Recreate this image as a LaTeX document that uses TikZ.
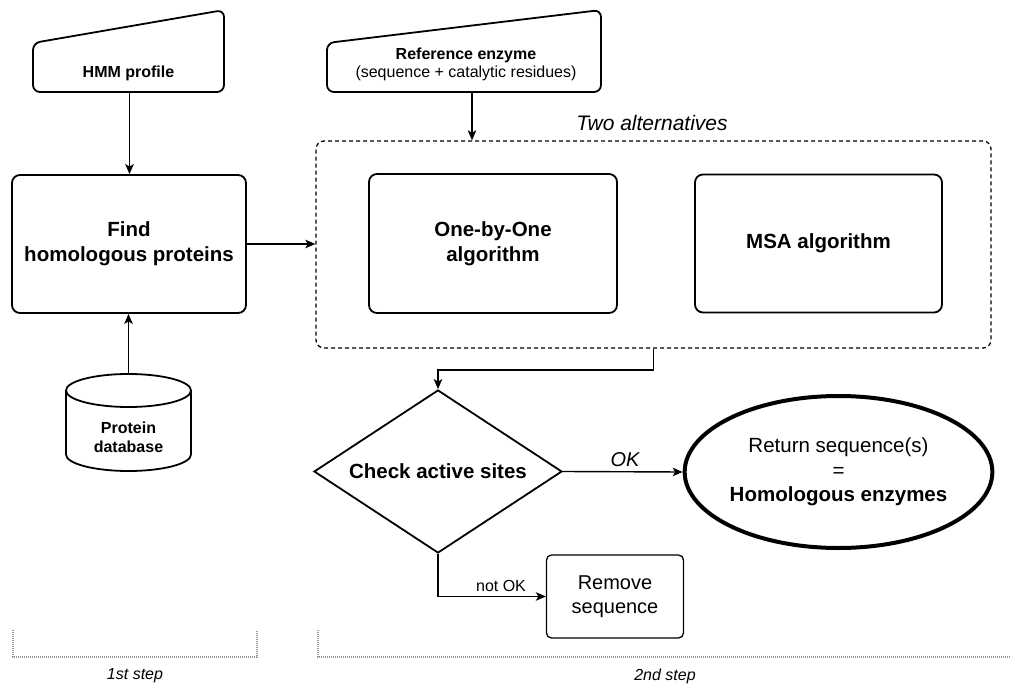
\documentclass[tikz,border=0pt]{standalone}
\usepackage{fontspec}
\setmainfont{Liberation Sans}
\usetikzlibrary{shapes.geometric,arrows.meta,calc}

\begin{document}
\begin{tikzpicture}[x=1pt,y=1pt,
  every node/.style={inner sep=0pt},
  bigbold/.style={font=\fontsize{20.5}{25}\selectfont\bfseries, align=center},
  smallbold/.style={font=\fontsize{16}{20}\selectfont\bfseries, align=center},
  procbox/.style={draw, line width=1.8pt, rounded corners=8pt, rectangle, bigbold},
  inshape/.style={draw, line width=1.8pt, rounded corners=7pt, line join=round},
  arr/.style={-{Stealth[length=10pt,width=8.5pt,inset=2.5pt]}, line width=1.4pt},
  altbox/.style={draw, line width=1.3pt, dash pattern=on 4pt off 3pt, rounded corners=8pt, rectangle},
  stepline/.style={draw=gray!80, line width=1.2pt, dash pattern=on 1pt off 1pt},
  steplabel/.style={font=\fontsize{16}{20}\selectfont\itshape}
]
\useasboundingbox (0,0) rectangle (1011,-684);

% --- inputs (manual input shapes) ---
\draw[inshape] (129,-92) -- (33,-92) -- (33,-43) -- (224,-10) -- (224,-92) -- cycle;
\node[smallbold] (hmm) at (128.5,-73) {HMM profile};
\coordinate (hmmB) at (129.5,-92);

\draw[inshape] (464,-92) -- (327,-92) -- (327,-43) -- (601,-10) -- (601,-92) -- cycle;
\node[align=center] (ref) at (466,-64)
  {{\fontsize{16}{20}\selectfont\bfseries Reference enzyme}\\[2pt]
   {\fontsize{16}{20}\selectfont (sequence + catalytic residues)}};
\coordinate (refB) at (472,-92);

% --- first step ---
\node[procbox, minimum width=234pt, minimum height=138pt] (find) at (129,-244) {Find\\homologous proteins};

% protein database cylinder
\draw[line width=1.8pt] (128.5,-390.5) ellipse [x radius=62.5, y radius=16.5];
\draw[line width=1.8pt] (66,-390.5) -- (66,-454.5)
  arc[start angle=180, end angle=360, x radius=62.5, y radius=16.5] -- (191,-390.5);
\node[smallbold, font=\fontsize{16}{19}\selectfont\bfseries] (db) at (128.5,-437.5) {Protein\\database};
\coordinate (dbT) at (128.5,-374);

% --- second step: alternatives ---
\node[altbox, minimum width=675pt, minimum height=207pt] (alts) at (653.5,-244.5) {};
\node[font=\fontsize{21}{25}\selectfont\itshape] (altlabel) at (652,-123) {Two alternatives};
\node[procbox, minimum width=248pt, minimum height=139pt] (obo) at (493,-243.5) {One-by-One\\algorithm};
\node[procbox, minimum width=247pt, minimum height=138pt] (msa) at (818.5,-243.5) {MSA algorithm};

% decision and outcomes
\node[draw, diamond, line width=1.8pt, aspect=1.52, minimum width=248pt, minimum height=163pt,
      font=\fontsize{20.5}{25}\selectfont\bfseries] (check) at (438,-471.5) {Check active sites};
\node[draw, ellipse, line width=4pt, minimum width=307pt, minimum height=152pt, align=center,
      font=\fontsize{20.5}{24.5}\selectfont] (ret) at (838.5,-472)
  {Return sequence(s)\\=\\\textbf{Homologous enzymes}};
\node[draw, rectangle, line width=1.3pt, rounded corners=5pt, minimum width=137pt, minimum height=83pt,
      align=center, font=\fontsize{20}{24}\selectfont] (rem) at (615,-596.5) {Remove\\sequence};

% --- connectors ---
\draw[arr] (hmmB) -- (hmmB |- find.north);
\draw[arr] (dbT) -- (dbT |- find.south);
\draw[arr] (find.east) -- (find.east -| alts.west);
\draw[arr] (refB) -- (refB |- alts.north);
\draw[arr] (alts.south) -- ++(0,-21.5) -| (check.north);
\draw[arr] (check.east) -- (ret.west);
\node[font=\fontsize{20}{24}\selectfont\itshape] (oklabel) at (625,-460) {OK};
\draw[arr] (check.south) |- (rem.west);
\node[font=\fontsize{16}{20}\selectfont] (noklabel) at (501,-586) {not OK};

% --- step brackets ---
\draw[stepline] (13,-630) -- (13,-657) -- (257,-657) -- (257,-630);
\draw[stepline] (318,-630) -- (318,-657) -- (1011,-657);
\node[steplabel] (s1) at (135,-676) {1st step};
\node[steplabel] (s2) at (665,-676) {2nd step};
\end{tikzpicture}
\end{document}
